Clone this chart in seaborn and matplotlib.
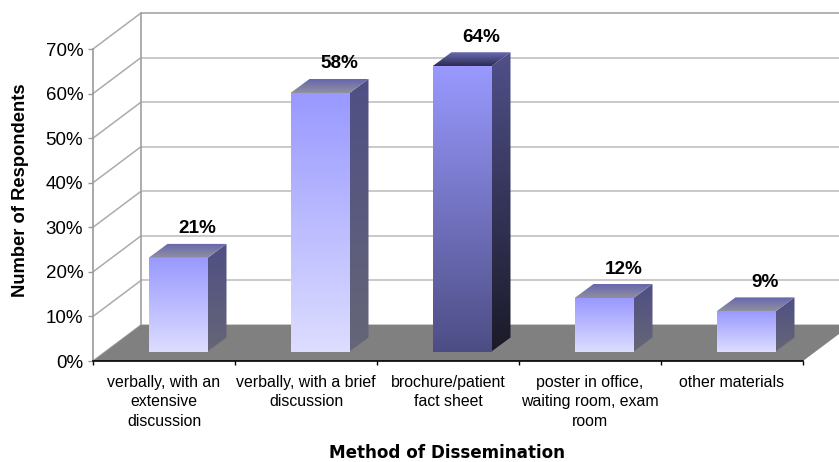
import numpy as np
import pandas as pd
import matplotlib
matplotlib.use("Agg")
import matplotlib.pyplot as plt
from matplotlib.colors import to_rgb
from matplotlib.patches import Polygon
import seaborn as sns

categories = ["verbally, with an\nextensive\ndiscussion",
              "verbally, with a brief\ndiscussion",
              "brochure/patient\nfact sheet",
              "poster in office,\nwaiting room, exam\nroom",
              "other materials"]
values = [21, 58, 64, 12, 9]
labels = ["21%", "58%", "64%", "12%", "9%"]
yticks = [0, 10, 20, 30, 40, 50, 60, 70]
ytick_labels = ["0%", "10%", "20%", "30%", "40%", "50%", "60%", "70%"]
xlabel = "Method of Dissemination"
ylabel = "Number of Respondents"

sns.set_theme(style="white")
plt.rcParams["font.family"] = ["Liberation Sans", "DejaVu Sans"]

W, H = 839, 462
fig = plt.figure(figsize=(W / 100, H / 100), dpi=100, facecolor="white")
L, R, B, T = 93, 803, 361, 49
ax = fig.add_axes([L / W, 1 - B / H, (R - L) / W, (B - T) / H])
ax.set_facecolor("none")

df = pd.DataFrame({"cat": categories, "val": values})
sns.barplot(data=df, x="cat", y="val", ax=ax, width=59 / 142, color="#9999FF", zorder=5)
ax.set_xlim(-0.5, 4.5)
ax.set_ylim(0, 70)
ppx = (R - L) / 5
ppy = (B - T) / 70
ax.set_autoscale_on(False)

# depth vectors, pixels to data units
wall_dx, wall_dy = 48 / ppx, 36 / ppy
shift_dx, shift_dy = 14 / ppx, 9.5 / ppy
bar_dx, bar_dy = 19 / ppx, 14 / ppy


def gradient(verts, top, bottom, z):
    """Fill a polygon with a vertical colour gradient."""
    poly = Polygon(verts, closed=True, facecolor="none", edgecolor="none", zorder=z)
    ax.add_patch(poly)
    xs, ys = zip(*verts)
    t = np.linspace(0, 1, 256)[:, None, None]
    arr = (1 - t) * np.array(to_rgb(top))[None, None, :] + t * np.array(to_rgb(bottom))[None, None, :]
    im = ax.imshow(arr, extent=(min(xs), max(xs), min(ys), max(ys)), origin="upper",
                   aspect="auto", interpolation="bilinear", zorder=z)
    im.set_clip_path(poly)


# walls and floor
x0, x1 = -0.5, 4.5
for y in yticks:
    color = "#A6A6A6" if y == 70 else "#C0C0C0"
    ax.plot([x0 + wall_dx, x1 + wall_dx + 1], [y + wall_dy, y + wall_dy], color=color,
            lw=1.2, clip_on=False, zorder=1, scalex=False, scaley=False)
    ax.plot([x0, x0 + wall_dx], [y, y + wall_dy], color="#ABABAB", lw=1.1, clip_on=False,
            zorder=1, scalex=False, scaley=False)
ax.plot([x0 + wall_dx] * 2, [wall_dy, 70 + wall_dy], color="#A0A0A0", lw=1.2, clip_on=False,
        zorder=1, scalex=False, scaley=False)
ax.add_patch(Polygon([(x0, 0), (x1, 0), (x1 + wall_dx, wall_dy), (x0 + wall_dx, wall_dy)],
                     closed=True, facecolor="#808080", edgecolor="none", clip_on=False, zorder=2))

# bars: seaborn places them, then they are stood back on the floor with a shaded front
palette = {
    "light": dict(front=("#9999FF", "#DDDDFF"), side=("#4F4F85", "#666677"), top=("#6666B0", "#90909F")),
    "dark": dict(front=("#9999FF", "#4D4D85"), side=("#50508A", "#1A1A28"), top=("#6A6AB4", "#2C2C50")),
}
for i, (patch, v) in enumerate(zip(ax.patches[:len(values)], values)):
    style = palette["dark" if i == 2 else "light"]
    patch.set_x(patch.get_x() + shift_dx)
    patch.set_y(shift_dy)
    patch.set_facecolor("none")
    patch.set_edgecolor("none")
    a = patch.get_x()
    b = a + patch.get_width()
    lo, hi = shift_dy, shift_dy + v
    gradient([(a, lo), (b, lo), (b, hi), (a, hi)], *style["front"], 6)
    gradient([(b, lo), (b + bar_dx, lo + bar_dy), (b + bar_dx, hi + bar_dy), (b, hi)], *style["side"], 5)
    gradient([(a, hi), (b, hi), (b + bar_dx, hi + bar_dy), (a + bar_dx, hi + bar_dy)], *style["top"], 5)
    ax.annotate(labels[i], xy=((a + b) / 2, hi), xytext=(19.5 * 0.72, 29 * 0.72), textcoords="offset points",
                ha="center", va="center", fontsize=13.6, fontweight="bold", color="black", zorder=8,
                annotation_clip=False)
ax.set_xlim(x0, x1)
ax.set_ylim(0, 70)

# axes
sns.despine(ax=ax, top=True, right=True)
ax.spines["left"].set_color("#999999")
ax.spines["left"].set_linewidth(1.2)
ax.spines["bottom"].set_color("black")
ax.spines["bottom"].set_linewidth(1.2)
ax.spines["bottom"].set_zorder(3)
ax.set_yticks(yticks, ytick_labels, fontsize=13.5)
ax.tick_params(axis="y", length=3.6, color="#999999", width=1, pad=3.5, left=True, labelcolor="black")
ax.set_xticks(range(len(categories)), categories, fontsize=11.4, linespacing=1.38)
ax.set_xticks(np.arange(-0.5, 5), minor=True)
ax.tick_params(axis="x", which="major", length=0, pad=10, labelcolor="black")
ax.tick_params(axis="x", which="minor", length=3, color="black", width=1, bottom=True)
ax.set_xlabel("")
ax.set_ylabel("")
fig.text(447 / W, 1 - 453 / H, xlabel, ha="center", va="center", fontsize=12.1, fontweight="bold",
         color="black", fontfamily="DejaVu Sans")
fig.text(21 / W, 1 - 190 / H, ylabel, rotation=90, ha="center", va="center", fontsize=13.2,
         fontweight="bold", color="black")

fig.savefig("out.png", dpi=100, facecolor="white")
